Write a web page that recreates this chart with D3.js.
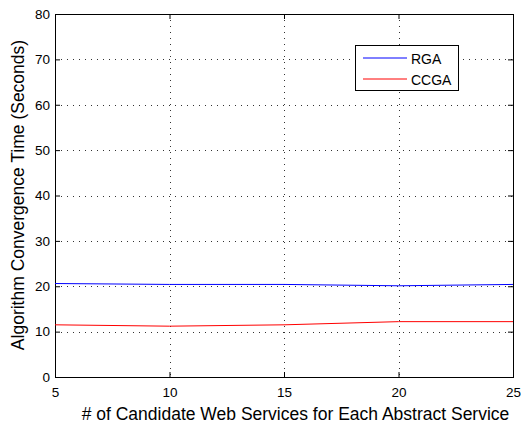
<!DOCTYPE html>
<html>
<head>
<meta charset="utf-8">
<script src="https://cdn.jsdelivr.net/npm/d3@7"></script>
<style>
  html, body { margin: 0; padding: 0; background: #fff; }
  svg { display: block; font-family: "Liberation Sans", Arial, Helvetica, sans-serif; }
</style>
</head>
<body>
<svg id="chart" width="521" height="427"></svg>
<script>
// Number of candidate web services per abstract service
const candidates = [5, 10, 15, 20, 25];
// Convergence time in seconds
const rgaTimes  = [20.6, 20.4, 20.4, 20.1, 20.4];
const ccgaTimes = [11.5, 11.2, 11.5, 12.2, 12.2];
const xTicks = [5, 10, 15, 20, 25];
const yTicks = [0, 10, 20, 30, 40, 50, 60, 70, 80];
const seriesNames = ["RGA", "CCGA"];
const seriesColors = ["#0000ff", "#ff0000"];

const svg = d3.select("#chart");
const plotL = 55, plotR = 513, plotT = 14, plotB = 377;

const x = d3.scaleLinear().domain([5, 25]).range([plotL, plotR]);
const y = d3.scaleLinear().domain([0, 80]).range([plotB, plotT]);

// dotted grid
const grid = svg.append("g").attr("stroke", "#333").attr("stroke-width", 1)
  .attr("stroke-dasharray", "1,5");
xTicks.slice(1, -1).forEach(t => {
  grid.append("line").attr("x1", Math.round(x(t)) + 0.5).attr("x2", Math.round(x(t)) + 0.5)
    .attr("y1", plotT).attr("y2", plotB);
});
yTicks.slice(1, -1).forEach(t => {
  grid.append("line").attr("y1", Math.round(y(t)) + 0.5).attr("y2", Math.round(y(t)) + 0.5)
    .attr("x1", plotL).attr("x2", plotR);
});

// axes with inward ticks on all four sides
const tickLen = 5;
const axBottom = d3.axisBottom(x).tickValues(xTicks).tickSizeInner(-tickLen).tickSizeOuter(0).tickPadding(10);
const axTop = d3.axisTop(x).tickValues(xTicks).tickSizeInner(-tickLen).tickSizeOuter(0).tickFormat("");
const axLeft = d3.axisLeft(y).tickValues(yTicks).tickSizeInner(-tickLen).tickSizeOuter(0).tickPadding(5);
const axRight = d3.axisRight(y).tickValues(yTicks).tickSizeInner(-tickLen).tickSizeOuter(0).tickFormat("");

function styleAxis(g) {
  g.select(".domain").remove();
  g.selectAll(".tick line").attr("stroke", "#000");
  g.selectAll(".tick text").attr("fill", "#000").style("font-size", "13.5px")
    .style("font-family", "'Liberation Sans', Arial, sans-serif");
}
svg.append("g").attr("transform", `translate(0,${plotB})`).call(axBottom).call(styleAxis);
svg.append("g").attr("transform", `translate(0,${plotT})`).call(axTop).call(styleAxis);
svg.append("g").attr("transform", `translate(${plotL},0)`).call(axLeft).call(styleAxis);
svg.append("g").attr("transform", `translate(${plotR},0)`).call(axRight).call(styleAxis);

// axes box
svg.append("rect").attr("x", plotL + 0.5).attr("y", plotT + 0.5)
  .attr("width", plotR - plotL).attr("height", plotB - plotT)
  .attr("fill", "none").attr("stroke", "#000").attr("stroke-width", 1);

// series lines
const line = d3.line().x((d, i) => x(candidates[i])).y(d => y(d));
[rgaTimes, ccgaTimes].forEach((vals, k) => {
  svg.append("path").datum(vals).attr("d", line)
    .attr("fill", "none").attr("stroke", seriesColors[k]).attr("stroke-width", 1);
});

// axis titles
svg.append("text").attr("x", 295.5).attr("y", 419.5)
  .attr("text-anchor", "middle").style("font-size", "17.5px")
  .text("# of Candidate Web Services for Each Abstract Service");
svg.append("text").attr("transform", `translate(24,195) rotate(-90)`)
  .attr("text-anchor", "middle").style("font-size", "17.5px")
  .text("Algorithm Convergence Time (Seconds)");

// legend
const lg = svg.append("g");
lg.append("rect").attr("x", 355.5).attr("y", 45.5).attr("width", 103).attr("height", 45)
  .attr("fill", "#fff").attr("stroke", "#000").attr("stroke-width", 1);
seriesNames.forEach((name, k) => {
  const ly = 58 + k * 21;
  lg.append("line").attr("x1", 363).attr("x2", 407).attr("y1", ly).attr("y2", ly)
    .attr("stroke", seriesColors[k]).attr("stroke-width", 1);
  lg.append("text").attr("x", 411).attr("y", ly + 6).style("font-size", "14px").text(name);
});
</script>
</body>
</html>
